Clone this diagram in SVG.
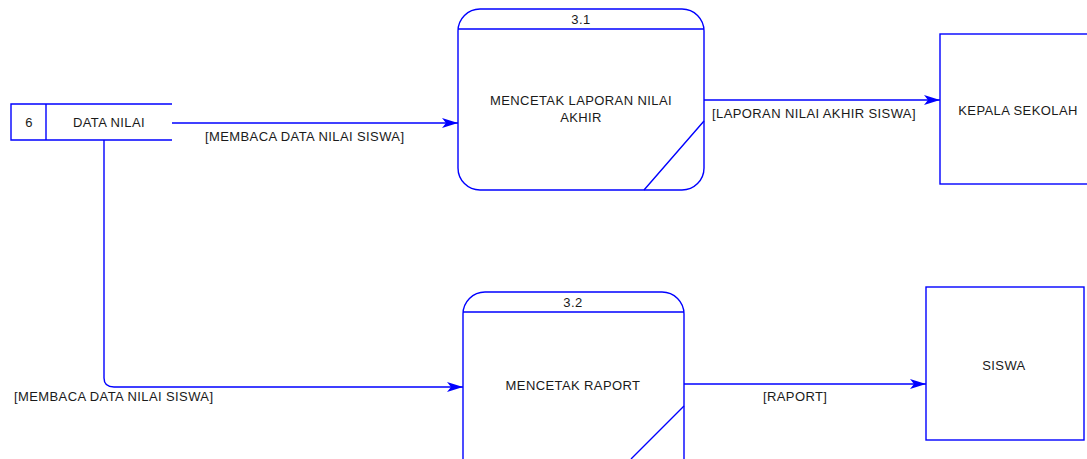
<svg xmlns="http://www.w3.org/2000/svg" width="1087" height="459" viewBox="0 0 1087 459">
<style>
.s{fill:none;stroke:#0000ff;stroke-width:1.4}
.b{fill:#ffffff;stroke:#0000ff;stroke-width:1.4}
.t{font-family:"Liberation Sans",Arial,sans-serif;font-size:13px;letter-spacing:0.4px;fill:#1a1a1a}
.c{text-anchor:middle}
</style>
<defs>
<marker id="ah" markerWidth="16" markerHeight="10" refX="16" refY="5" orient="auto" markerUnits="userSpaceOnUse">
<path d="M0,0 L16,5 L0,10 L4,5 Z" fill="#0000ff"/>
</marker>
</defs>
<rect width="1087" height="459" fill="#ffffff"/>
<g id="connectors">
<path class="s" d="M172,123 L458,123" marker-end="url(#ah)"/>
<path class="s" d="M704,100 L940,100" marker-end="url(#ah)"/>
<path class="s" d="M104,140 L104,378 Q104,387 114,387 L463,387" marker-end="url(#ah)"/>
<path class="s" d="M684,384 L926,384" marker-end="url(#ah)"/>
<text class="t" x="205" y="141">[MEMBACA DATA NILAI SISWA]</text>
<text class="t" x="712" y="118">[LAPORAN NILAI AKHIR SISWA]</text>
<text class="t" x="14" y="401">[MEMBACA DATA NILAI SISWA]</text>
<text class="t" x="763" y="401">[RAPORT]</text>
</g>
<g id="store6">
<path class="s" d="M172,104 L11,104 L11,140 L172,140 M46,104 L46,140"/>
<text class="t c" x="29" y="127">6</text>
<text class="t c" x="109" y="127">DATA NILAI</text>
</g>
<g id="process31">
<rect class="b" x="458" y="9" width="246" height="181" rx="22" ry="22"/>
<path class="s" d="M458,29 L704,29 M704,121 L644,190"/>
<text class="t c" x="581" y="24">3.1</text>
<text class="t c" x="581" y="105">MENCETAK LAPORAN NILAI</text>
<text class="t c" x="581" y="122">AKHIR</text>
</g>
<g id="process32">
<rect class="b" x="463" y="292" width="221" height="190" rx="22" ry="22"/>
<path class="s" d="M463,312 L684,312 M684,406 L631,459"/>
<text class="t c" x="573" y="307">3.2</text>
<text class="t c" x="573" y="390">MENCETAK RAPORT</text>
</g>
<g id="kepala">
<rect class="b" x="940" y="34" width="160" height="150"/>
<text class="t c" x="1018" y="115">KEPALA SEKOLAH</text>
</g>
<g id="siswa">
<rect class="b" x="926" y="287" width="158" height="153"/>
<text class="t c" x="1004" y="370">SISWA</text>
</g>
</svg>
